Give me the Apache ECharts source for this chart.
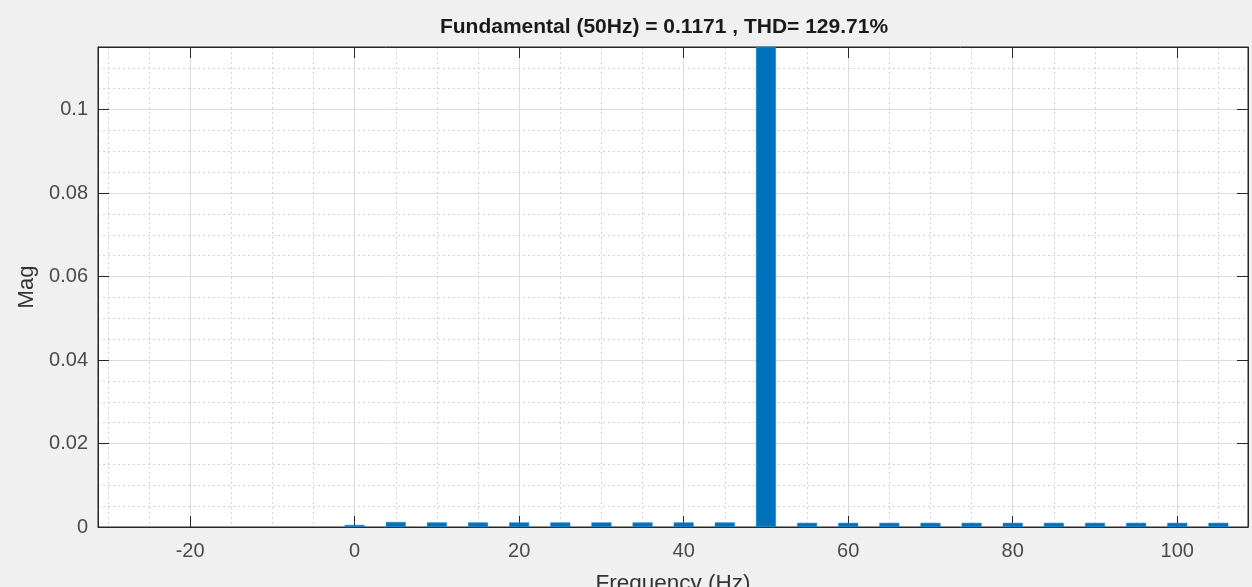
<!DOCTYPE html>
<html>
<head>
<meta charset="utf-8">
<script src="https://cdn.jsdelivr.net/npm/echarts@6/dist/echarts.min.js"></script>
<style>
html,body{margin:0;padding:0;background:#f0f0f0;}
#chart{width:1252px;height:587px;}
</style>
</head>
<body>
<div id="chart"></div>
<script>
const titleText = 'Fundamental (50Hz) = 0.1171 , THD= 129.71%';
const frequencies = [0, 5, 10, 15, 20, 25, 30, 35, 40, 45, 50, 55, 60, 65, 70, 75, 80, 85, 90, 95, 100, 105];
const magnitudes = [0.0005, 0.0012, 0.0011, 0.0011, 0.0011, 0.0011, 0.0011, 0.0011, 0.0011, 0.0011, 0.1171,
                    0.0010, 0.0010, 0.0010, 0.0010, 0.0010, 0.0010, 0.0010, 0.0010, 0.0010, 0.0010, 0.0010];
const xRange = [-31.2, 108.6];
const yRange = [0, 0.115];

const chart = echarts.init(document.getElementById('chart'));
const axisColor = '#262626';
const labelColor = '#4a4a4a';
const fontFam = '"Liberation Sans", Arial, Helvetica, sans-serif';

const baseX = {
  type: 'value', min: xRange[0], max: xRange[1], splitNumber: 7
};
const baseY = {
  type: 'value', min: yRange[0], max: yRange[1], interval: 0.02
};

chart.setOption({
  backgroundColor: '#f0f0f0',
  animation: false,
  title: {
    text: titleText,
    left: 659, top: 12, textAlign: 'center',
    textStyle: {fontFamily: fontFam, fontWeight: 'bold', fontSize: 21, color: '#1a1a1a'}
  },
  grid: {
    left: 98, right: 4, top: 47, bottom: 60,
    containLabel: false, outerBoundsMode: 'none',
    show: true, backgroundColor: '#ffffff', borderColor: axisColor, borderWidth: 1
  },
  xAxis: [
    Object.assign({}, baseX, {
      position: 'bottom',
      name: 'Frequency (Hz)', nameLocation: 'middle', nameGap: 45,
      nameTextStyle: {fontFamily: fontFam, fontSize: 22.5, color: '#333'},
      axisLine: {show: true, onZero: false, lineStyle: {color: axisColor, width: 1}},
      axisTick: {show: true, inside: true, length: 11, lineStyle: {color: axisColor}},
      minorTick: {show: false, splitNumber: 4},
      axisLabel: {show: true, margin: 14, fontFamily: fontFam, fontSize: 20, color: labelColor,
                  showMinLabel: false, showMaxLabel: false,
                  formatter: v => (Math.abs(v % 20) < 1e-9 ? String(v) : '')},
      splitLine: {show: true, lineStyle: {color: '#dcdcdc', width: 1}},
      minorSplitLine: {show: true, lineStyle: {color: '#d2d2d2', width: 1, type: [2, 3]}}
    }),
    Object.assign({}, baseX, {
      position: 'top',
      axisLine: {show: true, onZero: false, lineStyle: {color: axisColor, width: 1}},
      axisTick: {show: true, inside: true, length: 11, lineStyle: {color: axisColor}},
      axisLabel: {show: false},
      splitLine: {show: false}
    })
  ],
  yAxis: [
    Object.assign({}, baseY, {
      position: 'left',
      name: 'Mag', nameLocation: 'middle', nameGap: 53, nameRotate: 90,
      nameTextStyle: {fontFamily: fontFam, fontSize: 22, color: '#333'},
      axisLine: {show: true, onZero: false, lineStyle: {color: axisColor, width: 1}},
      axisTick: {show: true, inside: true, length: 11, lineStyle: {color: axisColor}},
      minorTick: {show: false, splitNumber: 4},
      axisLabel: {show: true, margin: 10, fontFamily: fontFam, fontSize: 20, color: labelColor,
                  showMaxLabel: false,
                  formatter: v => (Math.abs(Math.round(v * 100) - v * 100) < 1e-6 && Math.round(v*100) % 2 === 0 ? String(+v.toFixed(2)) : '')},
      splitLine: {show: true, lineStyle: {color: '#dcdcdc', width: 1}},
      minorSplitLine: {show: true, lineStyle: {color: '#d2d2d2', width: 1, type: [2, 3]}}
    }),
    Object.assign({}, baseY, {
      position: 'right',
      axisLine: {show: true, onZero: false, lineStyle: {color: axisColor, width: 1}},
      axisTick: {show: true, inside: true, length: 11, lineStyle: {color: axisColor}},
      axisLabel: {show: false},
      splitLine: {show: false}
    })
  ],
  series: [{
    type: 'bar',
    xAxisIndex: 0, yAxisIndex: 0,
    data: frequencies.map((f, i) => [f, magnitudes[i]]),
    barWidth: 20,
    clip: true,
    itemStyle: {color: '#0072BD', borderColor: '#1f8fd6', borderWidth: 0.5},
    z: 3
  }]
});
</script>
</body>
</html>
